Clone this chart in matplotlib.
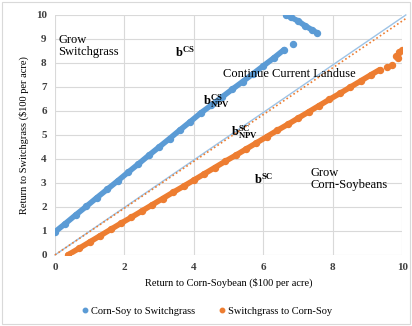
import matplotlib.pyplot as plt
from matplotlib.lines import Line2D
from matplotlib.patches import Rectangle

plt.rcParams['font.family'] = ['Liberation Serif', 'DejaVu Serif']
plt.rcParams['mathtext.fontset'] = 'custom'
plt.rcParams['mathtext.rm'] = 'Liberation Serif'
plt.rcParams['mathtext.bf'] = 'Liberation Serif:bold'

# Corn-Soy to Switchgrass (main run + stray points)
cs_x = [0.0, 0.3, 0.6, 0.9, 1.2, 1.5, 1.8, 2.1, 2.4, 2.7, 3.0, 3.3, 3.6, 3.9,
        4.2, 4.5, 4.8, 5.1, 5.4, 5.7, 6.0, 6.3, 6.6]
cs_y = [0.96, 1.31, 1.67, 2.02, 2.38, 2.73, 3.08, 3.44, 3.79, 4.15, 4.50, 4.85,
        5.21, 5.56, 5.92, 6.24, 6.57, 6.90, 7.22, 7.55, 7.88, 8.21, 8.56]
cs_dot_x = [6.85]
cs_dot_y = [8.8]
cs_top_x = [6.65, 6.8, 7.0, 7.2, 7.4, 7.55]
cs_top_y = [10.0, 9.9, 9.75, 9.55, 9.38, 9.25]

# Switchgrass to Corn-Soy
sc_x = [0.37, 0.7, 1.0, 1.3, 1.6, 1.9, 2.2, 2.5, 2.8, 3.1, 3.4, 3.7, 4.0, 4.3,
        4.6, 4.9, 5.2, 5.5, 5.8, 6.1, 6.4, 6.7, 7.0, 7.3, 7.6, 7.9, 8.2, 8.5,
        8.8, 9.1, 9.35]
sc_y = [0.0, 0.28, 0.54, 0.80, 1.06, 1.32, 1.57, 1.83, 2.09, 2.35, 2.61, 2.86,
        3.12, 3.38, 3.64, 3.90, 4.15, 4.41, 4.67, 4.93, 5.19, 5.44, 5.70, 5.96,
        6.22, 6.48, 6.73, 6.99, 7.25, 7.51, 7.72]
sc_dot_x = [9.55, 9.7, 9.82, 9.88, 9.9, 10.0]
sc_dot_y = [7.82, 7.9, 8.3, 8.2, 8.45, 8.55]

# trend / break-even lines
diag_x = [0, 10.1]
diag_cs_y = [0, 10.0]
diag_sc_y = [0, 9.85]

blue = '#5b9bd5'
orange = '#ed7d31'

fig = plt.figure(figsize=(4.12, 3.26), dpi=100)
ax = fig.add_axes([0.1335, 0.218, 0.843, 0.736])

ax.plot(diag_x, diag_cs_y, color='#9dc3e6', lw=1.0, clip_on=False, zorder=2)
ax.plot(diag_x, diag_sc_y, color=orange, lw=1.2, ls=(0, (1, 1.5)), clip_on=False, zorder=2)

ax.plot(cs_x, cs_y, color=blue, lw=4.0, marker='o', ms=4.3, solid_capstyle='round', zorder=3)
ax.plot(cs_top_x, cs_top_y, color=blue, lw=4.0, marker='o', ms=4.3, solid_capstyle='round', zorder=3)
ax.plot(cs_dot_x, cs_dot_y, color=blue, ls='none', marker='o', ms=4.3, zorder=3)

ax.plot(sc_x, sc_y, color=orange, lw=4.0, marker='o', ms=4.3, solid_capstyle='round', zorder=3)
ax.plot(sc_dot_x, sc_dot_y, color=orange, ls='none', marker='o', ms=4.3, zorder=3)

ax.set_xlim(0, 10)
ax.set_ylim(0, 10)
ax.set_xticks([0, 2, 4, 6, 8, 10])
ax.set_yticks(range(0, 11))
ax.grid(True, color='#d9d9d9', lw=0.8)
ax.set_axisbelow(True)
for s in ax.spines.values():
    s.set_visible(False)
ax.tick_params(length=0, labelsize=8, pad=6)
for lab in ax.get_xticklabels() + ax.get_yticklabels():
    lab.set_fontweight('bold')
    lab.set_color('#404040')

ax.set_xlabel('Return to Corn-Soybean ($100 per acre)', fontsize=7.5, labelpad=4)
ax.set_ylabel('Return to Switchgrass ($100 per acre)', fontsize=7.5, labelpad=5)

ax.text(0.1, 9.2, 'Grow\nSwitchgrass', fontsize=9, va='top', ha='left', linespacing=1.0)
ax.text(7.35, 3.65, 'Grow\nCorn-Soybeans', fontsize=9, va='top', ha='left', linespacing=1.0)
ax.text(6.75, 7.55, 'Continue Current Landuse', fontsize=9, ha='center', va='center')
ax.text(3.75, 8.45, r'$\mathbf{b^{CS}}$', fontsize=9, ha='center', va='center')
ax.text(4.65, 6.4, r'$\mathbf{b_{NPV}^{CS}}$', fontsize=9, ha='center', va='center')
ax.text(5.45, 5.1, r'$\mathbf{b_{NPV}^{SC}}$', fontsize=9, ha='center', va='center')
ax.text(6.0, 3.15, r'$\mathbf{b^{SC}}$', fontsize=9, ha='center', va='center')

handles = [Line2D([], [], color=blue, ls='none', marker='o', ms=3.2),
           Line2D([], [], color=orange, ls='none', marker='o', ms=3.2)]
fig.legend(handles, ['Corn-Soy to Switchgrass', 'Switchgrass to Corn-Soy'],
           loc='center', bbox_to_anchor=(0.5, 0.045), ncol=2, frameon=False,
           fontsize=7.5, handletextpad=0.1, columnspacing=2.0, handlelength=1.0)

fig.patches.append(Rectangle((0.005, 0.005), 0.99, 0.99, transform=fig.transFigure,
                             fill=False, edgecolor='#d9d9d9', lw=0.8))

fig.savefig('out.png', dpi=100)
